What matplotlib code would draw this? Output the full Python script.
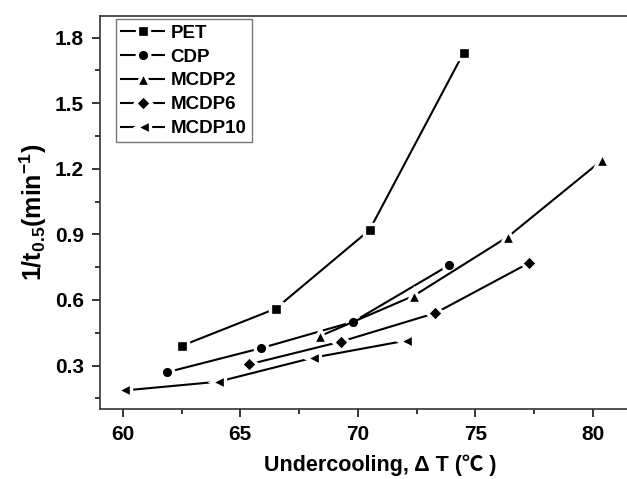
import matplotlib
matplotlib.use("Agg")
import matplotlib.pyplot as plt
from matplotlib.ticker import MultipleLocator

plt.rcParams['font.family'] = ['Liberation Sans', 'Noto Sans CJK SC', 'DejaVu Sans']
plt.rcParams['font.weight'] = 'bold'
plt.rcParams['mathtext.fontset'] = 'custom'
plt.rcParams['mathtext.rm'] = 'Liberation Sans:bold'
plt.rcParams['mathtext.it'] = 'Liberation Sans:bold'
plt.rcParams['mathtext.bf'] = 'Liberation Sans:bold'
plt.rcParams['mathtext.default'] = 'rm'

# Data
series_names = ['PET', 'CDP', 'MCDP2', 'MCDP6', 'MCDP10']
pet_x = [62.5, 66.5, 70.5, 74.5]
pet_y = [0.39, 0.56, 0.92, 1.73]
cdp_x = [61.9, 65.9, 69.8, 73.9]
cdp_y = [0.27, 0.38, 0.50, 0.76]
mcdp2_x = [68.4, 72.4, 76.4, 80.4]
mcdp2_y = [0.435, 0.62, 0.89, 1.24]
mcdp6_x = [65.35, 69.3, 73.3, 77.3]
mcdp6_y = [0.305, 0.41, 0.54, 0.77]
mcdp10_x = [60.05, 64.05, 68.1, 72.05]
mcdp10_y = [0.186, 0.226, 0.336, 0.414]

xs = [pet_x, cdp_x, mcdp2_x, mcdp6_x, mcdp10_x]
ys = [pet_y, cdp_y, mcdp2_y, mcdp6_y, mcdp10_y]
markers = ['s', 'o', '^', 'D', '<']
msizes = [8, 9, 9.5, 8, 9.5]

W, H = 627, 479
fig = plt.figure(figsize=(W / 100, H / 100), dpi=100)
left_px, right_px, top_px, bottom_px = 100, 660, 15.7, 409.3
ax = fig.add_axes([left_px / W, 1 - bottom_px / H, (right_px - left_px) / W, (bottom_px - top_px) / H])

for x, y, m, ms, name in zip(xs, ys, markers, msizes, series_names):
    ax.plot(x, y, color='black', lw=1.5, marker=m, markersize=ms,
            markerfacecolor='black', markeredgecolor='white', markeredgewidth=2.4,
            label=name)

ax.set_xlim(59.03, 82.86)
ax.set_ylim(0.1, 1.9)
ax.xaxis.set_minor_locator(MultipleLocator(2.5))
ax.yaxis.set_minor_locator(MultipleLocator(0.15))
ax.set_yticks([0.3, 0.6, 0.9, 1.2, 1.5, 1.8])
ax.set_yticklabels(['0.3', '0.6', '0.9', '1.2', '1.5', '1.8'])
ax.set_xticks([60, 65, 70, 75, 80])
ax.set_xticklabels(['60', '65', '70', '75', '80'])

ax.tick_params(which='major', direction='out', length=5.5, width=1.1, labelsize=15, pad=6)
ax.tick_params(which='minor', direction='out', length=3.5, width=1.1)
for lab in ax.get_xticklabels() + ax.get_yticklabels():
    lab.set_fontweight('bold')
for sp in ax.spines.values():
    sp.set_linewidth(1.2)
    sp.set_color('#333333')

ax.set_xlabel('Undercooling, \u0394 T (\u2103 )', fontsize=15.5, fontweight='bold', labelpad=7)
ax.set_ylabel(r'1/t$_{0.5}$(min$^{-1}$)', fontsize=18, fontweight='bold', labelpad=4)

leg = ax.legend(loc='upper left', bbox_to_anchor=(116 / W, 1 - 19.3 / H),
                bbox_transform=fig.transFigure, fontsize=13.5, frameon=True,
                fancybox=False, edgecolor='#555555', handlelength=2.3,
                handletextpad=0.32, labelspacing=0.36, borderpad=0.28,
                borderaxespad=0)
leg.get_frame().set_linewidth(1.0)
for t in leg.get_texts():
    t.set_fontweight('bold')

fig.savefig('out.png', dpi=100)
